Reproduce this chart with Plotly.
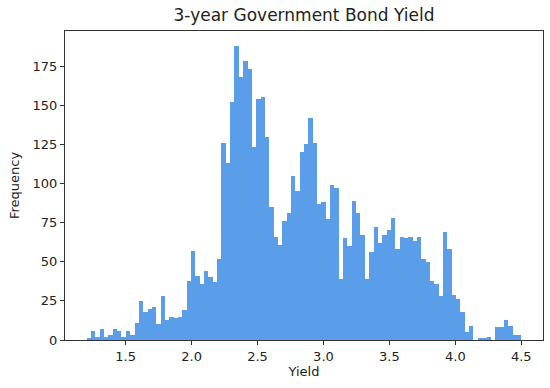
import numpy as np
import plotly.graph_objects as go

# histogram of 3-year bond yields, 100 equal bins
bin_start = 1.205
bin_end = 4.50
counts = [
    1, 6, 2, 7, 2, 3, 7, 6, 2, 6,
    3, 11, 25, 18, 20, 21, 10, 28, 13, 15,
    14, 15, 19, 38, 57, 41, 36, 44, 40, 37,
    52, 126, 113, 152, 188, 168, 178, 173, 123, 154,
    155, 130, 85, 66, 61, 76, 81, 105, 95, 120,
    125, 142, 126, 87, 88, 77, 99, 97, 39, 65,
    60, 89, 81, 67, 39, 56, 72, 62, 67, 70,
    78, 58, 66, 65, 66, 63, 66, 52, 50, 38,
    36, 28, 69, 58, 29, 26, 18, 5, 9, 0,
    1, 1, 2, 0, 8, 8, 13, 9, 3, 3,
]
x_ticks = [1.5, 2.0, 2.5, 3.0, 3.5, 4.0, 4.5]
y_ticks = [0, 25, 50, 75, 100, 125, 150, 175]

edges = np.linspace(bin_start, bin_end, len(counts) + 1)
centers = (edges[:-1] + edges[1:]) / 2
width = edges[1] - edges[0]

span = bin_end - bin_start
x_range = [bin_start - 0.05 * span, bin_end + 0.05 * span]
y_range = [0, max(counts) * 1.05]

fig = go.Figure()
fig.add_trace(go.Bar(
    x=centers, y=counts, width=width,
    marker=dict(color="#5a9de9", line=dict(width=0)),
))

axis_style = dict(
    showgrid=False, zeroline=False, showline=True, mirror=True,
    linecolor="#333333", linewidth=1, automargin=False,
    ticks="outside", ticklen=4, tickcolor="#333333",
    tickfont=dict(size=13, color="#222222"),
)

fig.update_layout(
    width=550, height=388,
    margin=dict(l=65, r=7, t=31, b=48),
    paper_bgcolor="white", plot_bgcolor="white",
    font=dict(family="DejaVu Sans", color="#222222"),
    title=dict(text="3-year Government Bond Yield", x=0.5, xref="paper",
               y=1 - 15 / 388, yref="container", yanchor="middle",
               font=dict(size=17, color="#222222")),
    bargap=0, showlegend=False,
)
fig.update_xaxes(range=x_range, tickvals=x_ticks, ticktext=[f"{t:.1f}" for t in x_ticks],
                 title=dict(text="Yield", font=dict(size=13), standoff=4), **axis_style)
fig.update_yaxes(range=y_range, tickvals=y_ticks,
                 title=dict(text="Frequency", font=dict(size=13), standoff=10), **axis_style)

# drop the browser's default 8px body margin so the figure sits at the page corner
fig.write_html("out.html", config={"displayModeBar": False},
               post_script="document.body.style.margin = '0';")
